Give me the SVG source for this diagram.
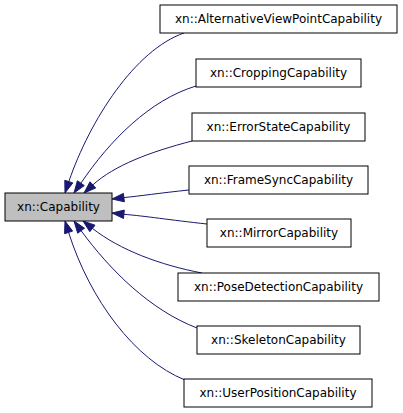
<svg xmlns="http://www.w3.org/2000/svg" width="403" height="413" viewBox="0 0 403 413">
<style>
.node rect{fill:#ffffff;stroke:#000000;stroke-width:1}
.node.root rect{fill:#bfbfbf}
.node text{font-family:"DejaVu Sans",sans-serif;font-size:12px;fill:#000000;text-anchor:middle}
.edges path{fill:none;stroke:#191970;stroke-width:1}
.edges polygon{fill:#191970;stroke:#191970;stroke-width:1}
</style>
<rect x="0" y="0" width="403" height="413" fill="#ffffff"/>
<g class="edges" id="edges">
<path d="M184,33 C135,50 90,120 68.8,181.6"/>
<polygon points="72.8,182.9 65,193 64.8,180.3"/>
<path d="M196,86 C150,100 110,140 80.9,183.2"/>
<polygon points="84.3,185.6 74,193 77.4,180.8"/>
<path d="M192,141 C150,152 115,165 92.8,184.9"/>
<polygon points="95.7,188 84,193 90,181.8"/>
<path d="M189,190 C160,193 140,196 123.9,197.6"/>
<polygon points="124.4,201.8 112,199 123.4,193.4"/>
<path d="M207,224 C170,220 145,216 123.9,214.3"/>
<polygon points="124.3,210.1 112,213 123.5,218.5"/>
<path d="M202,273 C160,265 120,250 92.4,228.4"/>
<polygon points="95,225.2 83,221 89.8,231.7"/>
<path d="M197,328 C150,310 110,270 81.1,230.7"/>
<polygon points="84.5,228.2 74,221 77.7,233.2"/>
<path d="M185,380 C135,360 90,300 68.6,232.4"/>
<polygon points="72.6,231.1 65,221 64.6,233.7"/>
</g>
<g class="node root" id="node-Capability"><rect x="5" y="193" width="107" height="28"/><text x="58.5" y="211">xn::Capability</text></g>
<g class="node" id="node-AlternativeViewPointCapability"><rect x="160" y="5" width="237" height="28"/><text x="278.5" y="23">xn::AlternativeViewPointCapability</text></g>
<g class="node" id="node-CroppingCapability"><rect x="196" y="59" width="165" height="28"/><text x="278.5" y="77">xn::CroppingCapability</text></g>
<g class="node" id="node-ErrorStateCapability"><rect x="192" y="113" width="173" height="28"/><text x="278.5" y="131">xn::ErrorStateCapability</text></g>
<g class="node" id="node-FrameSyncCapability"><rect x="189" y="166" width="179" height="28"/><text x="278.5" y="184">xn::FrameSyncCapability</text></g>
<g class="node" id="node-MirrorCapability"><rect x="207" y="219" width="144" height="28"/><text x="279" y="237">xn::MirrorCapability</text></g>
<g class="node" id="node-PoseDetectionCapability"><rect x="178" y="273" width="201" height="28"/><text x="278.5" y="291">xn::PoseDetectionCapability</text></g>
<g class="node" id="node-SkeletonCapability"><rect x="197" y="326" width="163" height="28"/><text x="278.5" y="344">xn::SkeletonCapability</text></g>
<g class="node" id="node-UserPositionCapability"><rect x="184" y="379" width="188" height="28"/><text x="278" y="397">xn::UserPositionCapability</text></g>
</svg>
